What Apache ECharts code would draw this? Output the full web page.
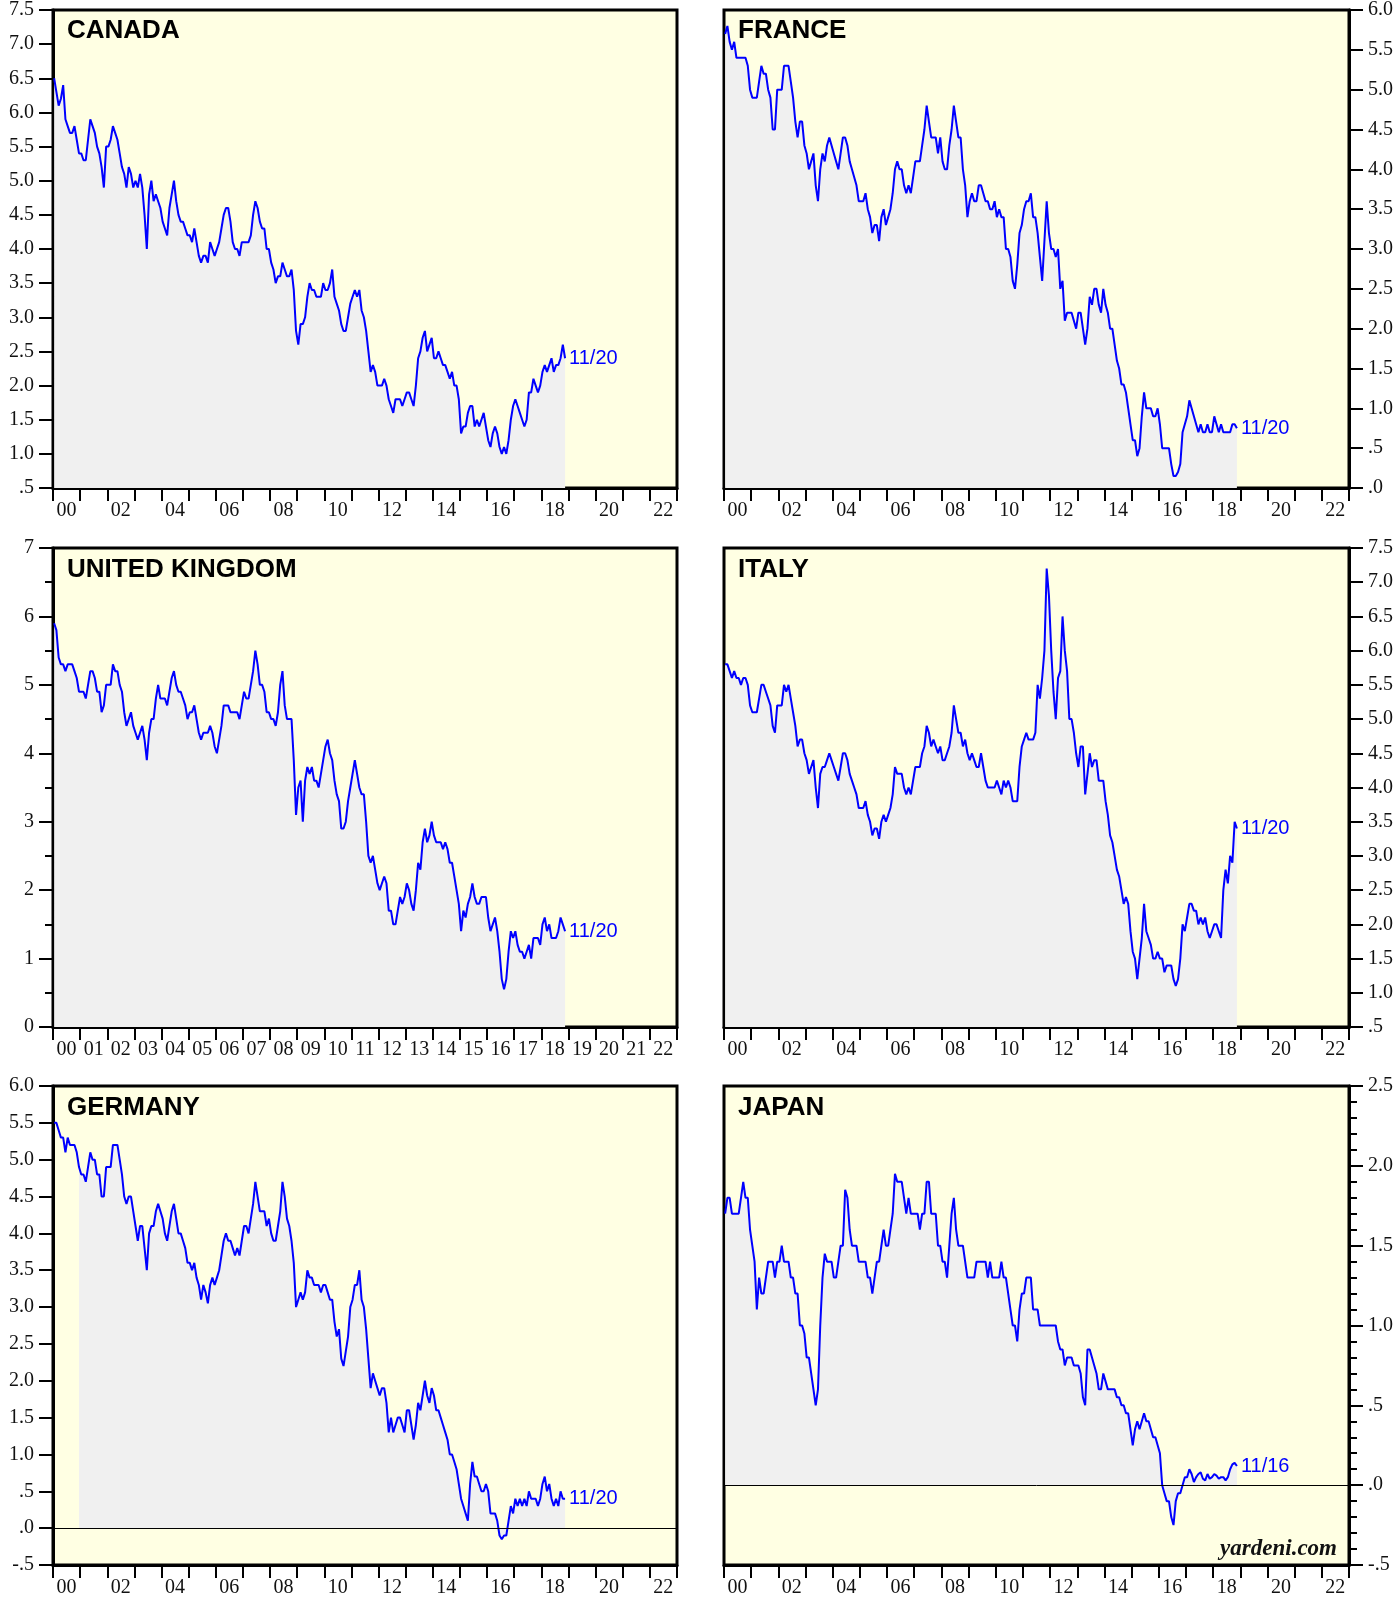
<!DOCTYPE html>
<html>
<head>
<meta charset="utf-8">
<script src="https://cdn.jsdelivr.net/npm/echarts/dist/echarts.min.js"></script>
<style>
html, body { margin: 0; padding: 0; background: #fff; }
#main { width: 1400px; height: 1598px; }
</style>
</head>
<body>
<div id="main"></div>
<script>
// monthly 10-year government bond yields, Jan 2000 .. Nov 2018
var startYear = 2000;

var canadaYields = [
  6.5, 6.3, 6.1, 6.2, 6.4, 5.9, 5.8, 5.7, 5.7, 5.8, 5.6, 5.4,
  5.4, 5.3, 5.3, 5.6, 5.9, 5.8, 5.7, 5.5, 5.4, 5.2, 4.9, 5.5,
  5.5, 5.6, 5.8, 5.7, 5.6, 5.4, 5.2, 5.1, 4.9, 5.2, 5.1, 4.9,
  5.0, 4.9, 5.1, 4.9, 4.5, 4.0, 4.8, 5.0, 4.7, 4.8, 4.7, 4.6,
  4.4, 4.3, 4.2, 4.6, 4.8, 5.0, 4.7, 4.5, 4.4, 4.4, 4.3, 4.2,
  4.2, 4.1, 4.3, 4.1, 3.9, 3.8, 3.9, 3.9, 3.8, 4.1, 4.0, 3.9,
  4.0, 4.1, 4.3, 4.5, 4.6, 4.6, 4.4, 4.1, 4.0, 4.0, 3.9, 4.1,
  4.1, 4.1, 4.1, 4.2, 4.5, 4.7, 4.6, 4.4, 4.3, 4.3, 4.0, 4.0,
  3.8, 3.7, 3.5, 3.6, 3.6, 3.8, 3.7, 3.6, 3.6, 3.7, 3.4, 2.8,
  2.6, 2.9, 2.9, 3.0, 3.3, 3.5, 3.4, 3.4, 3.3, 3.3, 3.3, 3.5,
  3.4, 3.4, 3.5, 3.7, 3.3, 3.2, 3.1, 2.9, 2.8, 2.8, 3.0, 3.2,
  3.3, 3.4, 3.3, 3.4, 3.1, 3.0, 2.8, 2.5, 2.2, 2.3, 2.2, 2.0,
  2.0, 2.0, 2.1, 2.0, 1.8, 1.7, 1.6, 1.8, 1.8, 1.8, 1.7, 1.8,
  1.9, 1.9, 1.8, 1.7, 2.0, 2.4, 2.5, 2.7, 2.8, 2.5, 2.6, 2.7,
  2.4, 2.4, 2.5, 2.4, 2.3, 2.3, 2.2, 2.1, 2.2, 2.0, 2.0, 1.8,
  1.3, 1.4, 1.4, 1.6, 1.7, 1.7, 1.4, 1.5, 1.4, 1.5, 1.6, 1.4,
  1.2, 1.1, 1.3, 1.4, 1.3, 1.1, 1.0, 1.1, 1.0, 1.2, 1.5, 1.7,
  1.8, 1.7, 1.6, 1.5, 1.4, 1.5, 1.9, 1.9, 2.1, 2.0, 1.9, 2.0,
  2.2, 2.3, 2.2, 2.3, 2.4, 2.2, 2.3, 2.3, 2.4, 2.6, 2.4
];

var franceYields = [
  5.7, 5.8, 5.6, 5.5, 5.6, 5.4, 5.4, 5.4, 5.4, 5.4, 5.3, 5.0,
  4.9, 4.9, 4.9, 5.1, 5.3, 5.2, 5.2, 5.0, 4.9, 4.5, 4.5, 5.0,
  5.0, 5.0, 5.3, 5.3, 5.3, 5.1, 4.9, 4.6, 4.4, 4.6, 4.6, 4.3,
  4.2, 4.0, 4.1, 4.2, 3.8, 3.6, 4.0, 4.2, 4.1, 4.3, 4.4, 4.3,
  4.2, 4.1, 4.0, 4.2, 4.4, 4.4, 4.3, 4.1, 4.0, 3.9, 3.8, 3.6,
  3.6, 3.6, 3.7, 3.5, 3.4, 3.2, 3.3, 3.3, 3.1, 3.4, 3.5, 3.3,
  3.4, 3.5, 3.7, 4.0, 4.1, 4.0, 4.0, 3.8, 3.7, 3.8, 3.7, 3.9,
  4.1, 4.1, 4.1, 4.3, 4.5, 4.8, 4.6, 4.4, 4.4, 4.4, 4.2, 4.4,
  4.1, 4.0, 4.0, 4.3, 4.5, 4.8, 4.6, 4.4, 4.4, 4.0, 3.8, 3.4,
  3.6, 3.7, 3.6, 3.6, 3.8, 3.8, 3.7, 3.6, 3.6, 3.5, 3.5, 3.6,
  3.4, 3.5, 3.4, 3.4, 3.0, 3.0, 2.9, 2.6, 2.5, 2.8, 3.2, 3.3,
  3.5, 3.6, 3.6, 3.7, 3.4, 3.4, 3.2, 2.9, 2.6, 3.1, 3.6, 3.2,
  3.0, 3.0, 2.9, 3.0, 2.5, 2.6, 2.1, 2.2, 2.2, 2.2, 2.1, 2.0,
  2.2, 2.2, 2.0, 1.8, 2.0, 2.4, 2.3, 2.5, 2.5, 2.3, 2.2, 2.5,
  2.3, 2.2, 2.0, 2.0, 1.8, 1.6, 1.5, 1.3, 1.3, 1.2, 1.0, 0.8,
  0.6, 0.6, 0.4, 0.5, 0.9, 1.2, 1.0, 1.0, 1.0, 0.9, 0.9, 1.0,
  0.8, 0.5, 0.5, 0.5, 0.5, 0.3, 0.15, 0.15, 0.2, 0.3, 0.7, 0.8,
  0.9, 1.1, 1.0, 0.9, 0.8, 0.7, 0.8, 0.7, 0.7, 0.8, 0.7, 0.7,
  0.9, 0.8, 0.7, 0.8, 0.7, 0.7, 0.7, 0.7, 0.8, 0.8, 0.75
];

var ukYields = [
  5.9, 5.8, 5.4, 5.3, 5.3, 5.2, 5.3, 5.3, 5.3, 5.2, 5.1, 4.9,
  4.9, 4.9, 4.8, 5.0, 5.2, 5.2, 5.1, 4.9, 4.9, 4.6, 4.7, 5.0,
  5.0, 5.0, 5.3, 5.2, 5.2, 5.0, 4.9, 4.6, 4.4, 4.5, 4.6, 4.4,
  4.3, 4.2, 4.3, 4.4, 4.2, 3.9, 4.3, 4.5, 4.5, 4.8, 5.0, 4.8,
  4.8, 4.8, 4.7, 4.9, 5.1, 5.2, 5.0, 4.9, 4.9, 4.8, 4.7, 4.5,
  4.6, 4.6, 4.7, 4.5, 4.3, 4.2, 4.3, 4.3, 4.3, 4.4, 4.3, 4.1,
  4.0, 4.2, 4.4, 4.7, 4.7, 4.7, 4.6, 4.6, 4.6, 4.6, 4.5, 4.7,
  4.9, 4.8, 4.8, 5.0, 5.2, 5.5, 5.3, 5.0, 5.0, 4.9, 4.6, 4.6,
  4.5, 4.5, 4.4, 4.6, 5.0, 5.2, 4.7, 4.5, 4.5, 4.5, 3.9, 3.1,
  3.5, 3.6, 3.0, 3.6, 3.8, 3.7, 3.8, 3.6, 3.6, 3.5, 3.7, 3.9,
  4.1, 4.2, 4.0, 3.9, 3.6, 3.4, 3.3, 2.9, 2.9, 3.0, 3.3, 3.5,
  3.7, 3.9, 3.7, 3.5, 3.4, 3.4, 3.0, 2.5, 2.4, 2.5, 2.3, 2.1,
  2.0, 2.1, 2.2, 2.1, 1.7, 1.7, 1.5, 1.5, 1.7, 1.9, 1.8, 1.9,
  2.1, 2.0, 1.8, 1.7, 2.0, 2.4, 2.3, 2.7, 2.9, 2.7, 2.8, 3.0,
  2.8, 2.7, 2.7, 2.7, 2.6, 2.7, 2.6, 2.4, 2.4, 2.2, 2.0, 1.8,
  1.4, 1.7, 1.6, 1.8, 1.9, 2.1, 1.9, 1.8, 1.8, 1.9, 1.9, 1.9,
  1.6, 1.4, 1.5, 1.6, 1.4, 1.1, 0.7, 0.55, 0.7, 1.1, 1.4, 1.3,
  1.4, 1.2, 1.1, 1.1, 1.0, 1.1, 1.2, 1.0, 1.3, 1.3, 1.3, 1.2,
  1.5, 1.6, 1.4, 1.5, 1.3, 1.3, 1.3, 1.4, 1.6, 1.5, 1.4
];

var italyYields = [
  5.8, 5.8, 5.7, 5.6, 5.7, 5.6, 5.6, 5.5, 5.6, 5.6, 5.5, 5.2,
  5.1, 5.1, 5.1, 5.3, 5.5, 5.5, 5.4, 5.3, 5.2, 4.9, 4.8, 5.2,
  5.2, 5.2, 5.5, 5.4, 5.5, 5.3, 5.1, 4.9, 4.6, 4.7, 4.7, 4.5,
  4.4, 4.2, 4.3, 4.4, 4.0, 3.7, 4.2, 4.3, 4.3, 4.4, 4.5, 4.4,
  4.3, 4.2, 4.1, 4.3, 4.5, 4.5, 4.4, 4.2, 4.1, 4.0, 3.9, 3.7,
  3.7, 3.7, 3.8, 3.6, 3.5, 3.3, 3.4, 3.4, 3.25, 3.5, 3.6, 3.5,
  3.6, 3.7, 3.9, 4.3, 4.2, 4.2, 4.2, 4.0, 3.9, 4.0, 3.9, 4.1,
  4.3, 4.3, 4.3, 4.5, 4.6, 4.9, 4.8, 4.6, 4.7, 4.6, 4.5, 4.6,
  4.4, 4.4, 4.5, 4.6, 4.8, 5.2, 5.0, 4.8, 4.8, 4.6, 4.7, 4.5,
  4.4, 4.5, 4.4, 4.3, 4.3, 4.5, 4.3, 4.1, 4.0, 4.0, 4.0, 4.0,
  4.1, 4.0, 3.9, 4.1, 4.0, 4.1, 4.0, 3.8, 3.8, 3.8, 4.3, 4.6,
  4.7, 4.8, 4.7, 4.7, 4.7, 4.8, 5.5, 5.3, 5.6, 6.0, 7.2, 6.8,
  6.0, 5.4, 5.0, 5.6, 5.7, 6.5, 6.0, 5.7, 5.0, 5.0, 4.8, 4.5,
  4.3, 4.6, 4.6, 3.9, 4.2, 4.5, 4.3, 4.4, 4.4, 4.1, 4.1, 4.1,
  3.8, 3.6, 3.3, 3.2, 3.0, 2.8, 2.7, 2.5, 2.3, 2.4, 2.3, 1.9,
  1.6, 1.5, 1.2, 1.5, 1.8, 2.3, 1.9, 1.8, 1.7, 1.5, 1.5, 1.6,
  1.5, 1.5, 1.3, 1.4, 1.4, 1.4, 1.2, 1.1, 1.2, 1.5, 2.0, 1.9,
  2.1, 2.3, 2.3, 2.2, 2.2, 2.0, 2.1, 2.0, 2.1, 1.9, 1.8, 1.9,
  2.0, 2.0, 1.9, 1.8, 2.5, 2.8, 2.6, 3.0, 2.9, 3.5, 3.4
];

var germanyYields = [
  5.5, 5.5, 5.4, 5.3, 5.3, 5.1, 5.3, 5.2, 5.2, 5.2, 5.1, 4.9,
  4.8, 4.8, 4.7, 4.9, 5.1, 5.0, 5.0, 4.8, 4.8, 4.5, 4.5, 4.9,
  4.9, 4.9, 5.2, 5.2, 5.2, 5.0, 4.8, 4.5, 4.4, 4.5, 4.5, 4.3,
  4.1, 3.9, 4.1, 4.1, 3.8, 3.5, 4.0, 4.1, 4.1, 4.3, 4.4, 4.3,
  4.2, 4.0, 3.9, 4.1, 4.3, 4.4, 4.2, 4.0, 4.0, 3.9, 3.8, 3.6,
  3.6, 3.5, 3.6, 3.4, 3.3, 3.1, 3.3, 3.2, 3.05, 3.3, 3.4, 3.3,
  3.4, 3.5, 3.7, 3.9, 4.0, 3.9, 3.9, 3.8, 3.7, 3.8, 3.7, 3.9,
  4.1, 4.1, 4.0, 4.2, 4.4, 4.7, 4.5, 4.3, 4.3, 4.3, 4.1, 4.2,
  4.0, 3.9, 3.9, 4.1, 4.3, 4.7, 4.5, 4.2, 4.1, 3.9, 3.6, 3.0,
  3.1, 3.2, 3.1, 3.2, 3.5, 3.4, 3.4, 3.3, 3.3, 3.3, 3.2, 3.3,
  3.3, 3.2, 3.1, 3.1, 2.8, 2.6, 2.7, 2.3, 2.2, 2.4, 2.6, 3.0,
  3.1, 3.3, 3.3, 3.5, 3.1, 3.0, 2.7, 2.3, 1.9, 2.1, 2.0, 1.9,
  1.8, 1.9, 1.9, 1.7, 1.3, 1.5, 1.3, 1.4, 1.5, 1.5, 1.4, 1.3,
  1.6, 1.6, 1.4, 1.2, 1.4, 1.7, 1.6, 1.8, 2.0, 1.8, 1.7, 1.9,
  1.8, 1.6, 1.6, 1.5, 1.4, 1.3, 1.2, 1.0, 1.0, 0.9, 0.8, 0.6,
  0.4, 0.3, 0.2, 0.1, 0.6, 0.9, 0.7, 0.7, 0.6, 0.5, 0.5, 0.6,
  0.5, 0.2, 0.2, 0.2, 0.1, -0.1, -0.15, -0.1, -0.1, 0.1, 0.3, 0.2,
  0.4, 0.3, 0.4, 0.3, 0.4, 0.3, 0.5, 0.4, 0.4, 0.4, 0.3, 0.4,
  0.6, 0.7, 0.5, 0.6, 0.4, 0.3, 0.4, 0.3, 0.5, 0.4, 0.4
];

var japanYields = [
  1.7, 1.8, 1.8, 1.7, 1.7, 1.7, 1.7, 1.8, 1.9, 1.8, 1.8, 1.6,
  1.5, 1.4, 1.1, 1.3, 1.2, 1.2, 1.3, 1.4, 1.4, 1.4, 1.3, 1.4,
  1.4, 1.5, 1.4, 1.4, 1.4, 1.3, 1.3, 1.2, 1.2, 1.0, 1.0, 0.95,
  0.8, 0.8, 0.7, 0.6, 0.5, 0.6, 1.0, 1.3, 1.45, 1.4, 1.4, 1.4,
  1.3, 1.3, 1.4, 1.5, 1.5, 1.85, 1.8, 1.6, 1.5, 1.5, 1.5, 1.4,
  1.4, 1.4, 1.4, 1.3, 1.3, 1.2, 1.3, 1.4, 1.4, 1.5, 1.6, 1.5,
  1.5, 1.6, 1.7, 1.95, 1.9, 1.9, 1.9, 1.8, 1.7, 1.8, 1.7, 1.7,
  1.7, 1.7, 1.6, 1.7, 1.7, 1.9, 1.9, 1.7, 1.7, 1.7, 1.5, 1.5,
  1.4, 1.4, 1.3, 1.5, 1.7, 1.8, 1.6, 1.5, 1.5, 1.5, 1.4, 1.3,
  1.3, 1.3, 1.3, 1.4, 1.4, 1.4, 1.4, 1.4, 1.3, 1.4, 1.3, 1.3,
  1.3, 1.3, 1.4, 1.3, 1.3, 1.2, 1.1, 1.0, 1.0, 0.9, 1.1, 1.2,
  1.2, 1.3, 1.3, 1.3, 1.1, 1.1, 1.1, 1.0, 1.0, 1.0, 1.0, 1.0,
  1.0, 1.0, 1.0, 0.9, 0.85, 0.85, 0.75, 0.8, 0.8, 0.8, 0.75, 0.75,
  0.75, 0.7, 0.55, 0.5, 0.85, 0.85, 0.8, 0.75, 0.7, 0.6, 0.6, 0.7,
  0.65, 0.6, 0.6, 0.6, 0.6, 0.55, 0.55, 0.5, 0.5, 0.45, 0.45, 0.35,
  0.25, 0.35, 0.4, 0.35, 0.4, 0.45, 0.4, 0.4, 0.35, 0.3, 0.3, 0.25,
  0.2, 0.0, -0.05, -0.1, -0.1, -0.2, -0.25, -0.1, -0.05, -0.05, 0.0, 0.05,
  0.05, 0.1, 0.07, 0.02, 0.05, 0.07, 0.08, 0.04, 0.03, 0.07, 0.04, 0.05,
  0.07, 0.06, 0.04, 0.05, 0.05, 0.03, 0.05, 0.1, 0.13, 0.14, 0.12
];

var lastDates = ['11/20', '11/20', '11/20', '11/20', '11/20', '11/16'];

var chartDom = document.getElementById('main');
var myChart = echarts.init(chartDom);

var serif = 'Liberation Serif';
var sans = 'Liberation Sans';

function decLabel(v) {
  var s = v.toFixed(1);
  if (Math.abs(v) < 1) s = s.replace('0.', '.');
  return s;
}
function intLabel(v) { return String(Math.round(v)); }

var panels = [
  { name: 'CANADA', data: canadaYields, left: 53, top: 9, width: 624, side: 'left', min: 0.5, max: 7.5, step: 0.5, fmt: decLabel, fill: 'start', fillFrom: 0 },
  { name: 'FRANCE', data: franceYields, left: 724, top: 9, width: 625, side: 'right', min: 0, max: 6, step: 0.5, fmt: decLabel, fill: 'start', fillFrom: 0 },
  { name: 'UNITED KINGDOM', data: ukYields, left: 53, top: 548, width: 624, side: 'left', min: 0, max: 7, step: 1, fmt: intLabel, minor: 2, everyYear: true, fill: 'start', fillFrom: 0 },
  { name: 'ITALY', data: italyYields, left: 724, top: 548, width: 625, side: 'right', min: 0.5, max: 7.5, step: 0.5, fmt: decLabel, fill: 'start', fillFrom: 0 },
  { name: 'GERMANY', data: germanyYields, left: 53, top: 1086, width: 624, side: 'left', min: -0.5, max: 6, step: 0.5, fmt: decLabel, fill: 0, fillFrom: 11, zero: true },
  { name: 'JAPAN', data: japanYields, left: 724, top: 1086, width: 625, side: 'right', min: -0.5, max: 2.5, step: 0.5, fmt: decLabel, minor: 5, fill: 0, fillFrom: 0, zero: true }
];

var grids = [], xAxes = [], yAxes = [], series = [], titles = [];

panels.forEach(function (p, i) {
  grids.push({
    left: p.left, top: p.top, width: p.width, height: 479,
    show: true, backgroundColor: '#FFFFE3', borderColor: '#000', borderWidth: 3
  });

  titles.push({
    text: p.name, left: p.left + 14, top: p.top + 9, padding: 0,
    textStyle: { fontFamily: sans, fontWeight: 'bold', fontSize: 26, color: '#000' }
  });

  xAxes.push({
    gridIndex: i, type: 'value', min: 2000, max: 2023, interval: 1,
    axisLine: { show: true, onZero: false, lineStyle: { color: '#000', width: 3 } },
    axisTick: { show: true, length: 13, lineStyle: { color: '#000', width: 2 } },
    splitLine: { show: false },
    axisLabel: {
      margin: 13,
      formatter: function (v) {
        var y = Math.round(v);
        if (y >= 2023) return '';
        if (!p.everyYear && y % 2) return '';
        var s = String(y - 2000);
        if (s.length < 2) s = '0' + s;
        return '{y|' + s + '}';
      },
      rich: { y: { padding: [0, 0, 0, 27], fontFamily: serif, fontSize: 20, color: '#111' } }
    }
  });

  yAxes.push({
    gridIndex: i, type: 'value', position: p.side, min: p.min, max: p.max, interval: p.step,
    axisLine: { show: true, onZero: false, lineStyle: { color: '#000', width: 3 } },
    axisTick: { show: true, length: 14, lineStyle: { color: '#000', width: 2 } },
    minorTick: p.minor ? { show: true, splitNumber: p.minor, length: 8, lineStyle: { color: '#000', width: 2 } } : { show: false },
    splitLine: { show: false },
    axisLabel: { formatter: p.fmt, margin: 19, fontFamily: serif, fontSize: 20, color: '#111' }
  });

  var pts = p.data.map(function (v, k) { return [startYear + (k + 0.5) / 12, v]; });

  if (p.fillFrom > 0) {
    series.push({
      type: 'line', xAxisIndex: i, yAxisIndex: i, symbol: 'none', silent: true,
      data: pts.map(function (d, k) { return k >= p.fillFrom ? d : [d[0], null]; }),
      lineStyle: { width: 0, opacity: 0 },
      areaStyle: { color: '#F0F0F0', opacity: 1, origin: p.fill }
    });
  }

  var s = {
    type: 'line', xAxisIndex: i, yAxisIndex: i, symbol: 'none', data: pts,
    lineStyle: { color: '#0000FF', width: 2 },
    endLabel: { show: true, formatter: lastDates[i], color: '#0000FF', fontFamily: sans, fontSize: 20, distance: 4 }
  };
  if (p.fillFrom === 0) {
    s.areaStyle = { color: '#F0F0F0', opacity: 1, origin: p.fill };
  }
  if (p.zero) {
    s.markLine = {
      silent: true, symbol: 'none', label: { show: false },
      lineStyle: { color: '#000', width: 1, type: 'solid' },
      data: [{ yAxis: 0 }]
    };
  }
  series.push(s);
});

var option = {
  animation: false,
  backgroundColor: '#fff',
  title: titles,
  grid: grids,
  xAxis: xAxes,
  yAxis: yAxes,
  series: series,
  graphic: [{
    type: 'text', x: 1337, y: 1561,
    style: { text: 'yardeni.com', font: 'italic bold 23px "Liberation Serif"', fill: '#111', align: 'right', verticalAlign: 'bottom' }
  }]
};

option && myChart.setOption(option);
</script>
</body>
</html>
